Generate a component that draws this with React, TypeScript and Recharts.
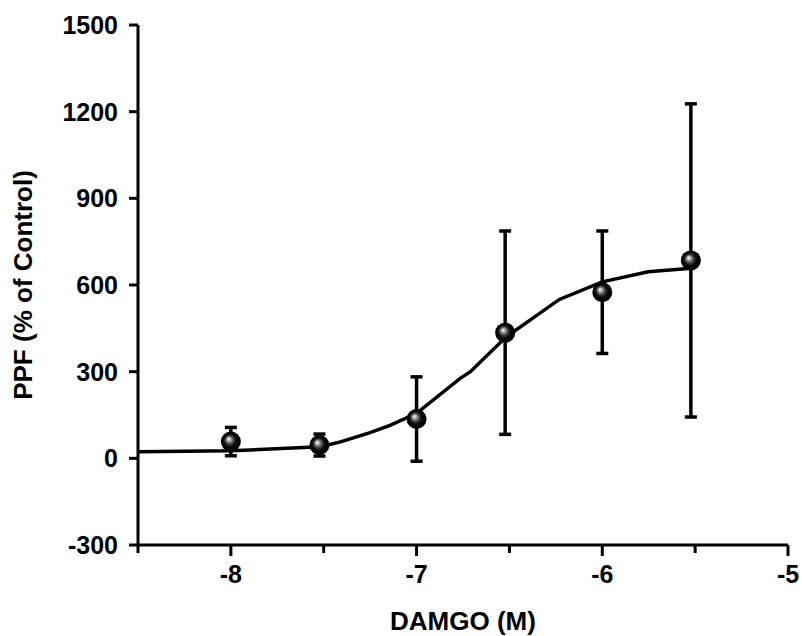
import React from 'react';
import { ComposedChart, Line, Scatter, ErrorBar, XAxis, YAxis } from 'recharts';

// Measured data (log molar DAMGO concentration)
const doseLog = [-8, -7.523, -7, -6.523, -6, -5.523];
const ppfMean = [58, 46, 136, 435, 575, 685];
const ppfSem = [49, 38, 146, 352, 212, 542];

// Fitted curve
const curveX = [-8.5, -8.0, -7.52, -7.41, -7.25, -7.14, -7.0, -6.765, -6.71, -6.52, -6.231, -6.0, -5.753, -5.52];
const curveY = [23, 26, 40, 57, 89, 115, 156, 277, 300, 419, 550, 611, 646, 658];

const xTicks = [-8.5, -8, -7.5, -7, -6.5, -6, -5.5, -5];
const yTicks = [-300, 0, 300, 600, 900, 1200, 1500];

const points = doseLog.map((x, i) => ({ x, y: ppfMean[i], err: ppfSem[i] }));
const curve = curveX.map((x, i) => ({ x, y: curveY[i] }));

const FONT = '"Liberation Sans", Arial, sans-serif';

const Sphere = (props: any) => {
  const { cx, cy } = props;
  if (cx == null || cy == null) return null;
  return (
    <g>
      <defs>
        <radialGradient id="sphereGrad" cx="0.5" cy="0.5" r="0.5" fx="0.38" fy="0.36">
          <stop offset="0" stopColor="#ffffff" />
          <stop offset="0.14" stopColor="#c8c8c8" />
          <stop offset="0.38" stopColor="#505050" />
          <stop offset="0.62" stopColor="#0a0a0a" />
          <stop offset="1" stopColor="#000000" />
        </radialGradient>
      </defs>
      <circle cx={cx} cy={cy} r={10} fill="url(#sphereGrad)" />
    </g>
  );
};

const XTick = (props: any) => {
  const { x, y, payload } = props;
  const v = payload.value;
  const major = Number.isInteger(v);
  return (
    <g>
      <line x1={x} y1={y} x2={x} y2={y + (major ? 11 : 8)} stroke="#000" strokeWidth={3} />
      {major && (
        <text x={x} y={y + 38} textAnchor="middle" fontFamily={FONT} fontWeight="bold" fontSize={25} fill="#000">
          {String(v)}
        </text>
      )}
    </g>
  );
};

const YTick = (props: any) => {
  const { x, y, payload } = props;
  return (
    <g>
      <line x1={x - 9} y1={y} x2={x} y2={y} stroke="#000" strokeWidth={3} />
      <text x={x - 20} y={y + 9} textAnchor="end" fontFamily={FONT} fontWeight="bold" fontSize={25} fill="#000">
        {String(payload.value)}
      </text>
    </g>
  );
};

const XTitle = (props: any) => {
  const vb = props.viewBox || {};
  const cx = vb.x + vb.width / 2;
  return (
    <text x={cx} y={630} textAnchor="middle" fontFamily={FONT} fontWeight="bold" fontSize={26} fill="#000">
      DAMGO (M)
    </text>
  );
};

const YTitle = (props: any) => {
  const vb = props.viewBox || {};
  const cy = vb.y + vb.height / 2;
  return (
    <text x={32} y={cy} transform={`rotate(-90 32 ${cy})`} textAnchor="middle" fontFamily={FONT} fontWeight="bold" fontSize={26} fill="#000">
      PPF (% of Control)
    </text>
  );
};

export default function App() {
  return (
    <div style={{ position: 'absolute', left: 0, top: 0, width: 802, height: 636, background: '#fff' }}>
      <ComposedChart width={802} height={636} margin={{ top: 25, right: 14, bottom: 0, left: 0 }}>
        <XAxis
          dataKey="x"
          type="number"
          domain={[-8.5, -5]}
          ticks={xTicks}
          allowDataOverflow
          height={91}
          axisLine={{ stroke: '#000', strokeWidth: 3 }}
          tickLine={false}
          tickSize={0}
          tickMargin={0}
          tick={<XTick />}
          interval={0}
          label={<XTitle />}
        />
        <YAxis
          type="number"
          domain={[-300, 1500]}
          ticks={yTicks}
          allowDataOverflow
          width={138}
          axisLine={{ stroke: '#000', strokeWidth: 3 }}
          tickLine={false}
          tickSize={0}
          tickMargin={0}
          tick={<YTick />}
          interval={0}
          label={<YTitle />}
        />
        <Line
          data={curve}
          dataKey="y"
          type="linear"
          stroke="#000"
          strokeWidth={3.5}
          dot={false}
          activeDot={false}
          isAnimationActive={false}
        />
        <Scatter data={points} dataKey="y" shape={<Sphere />} isAnimationActive={false}>
          <ErrorBar dataKey="err" direction="y" width={6} stroke="#000" strokeWidth={3.5} />
        </Scatter>
      </ComposedChart>
    </div>
  );
}
